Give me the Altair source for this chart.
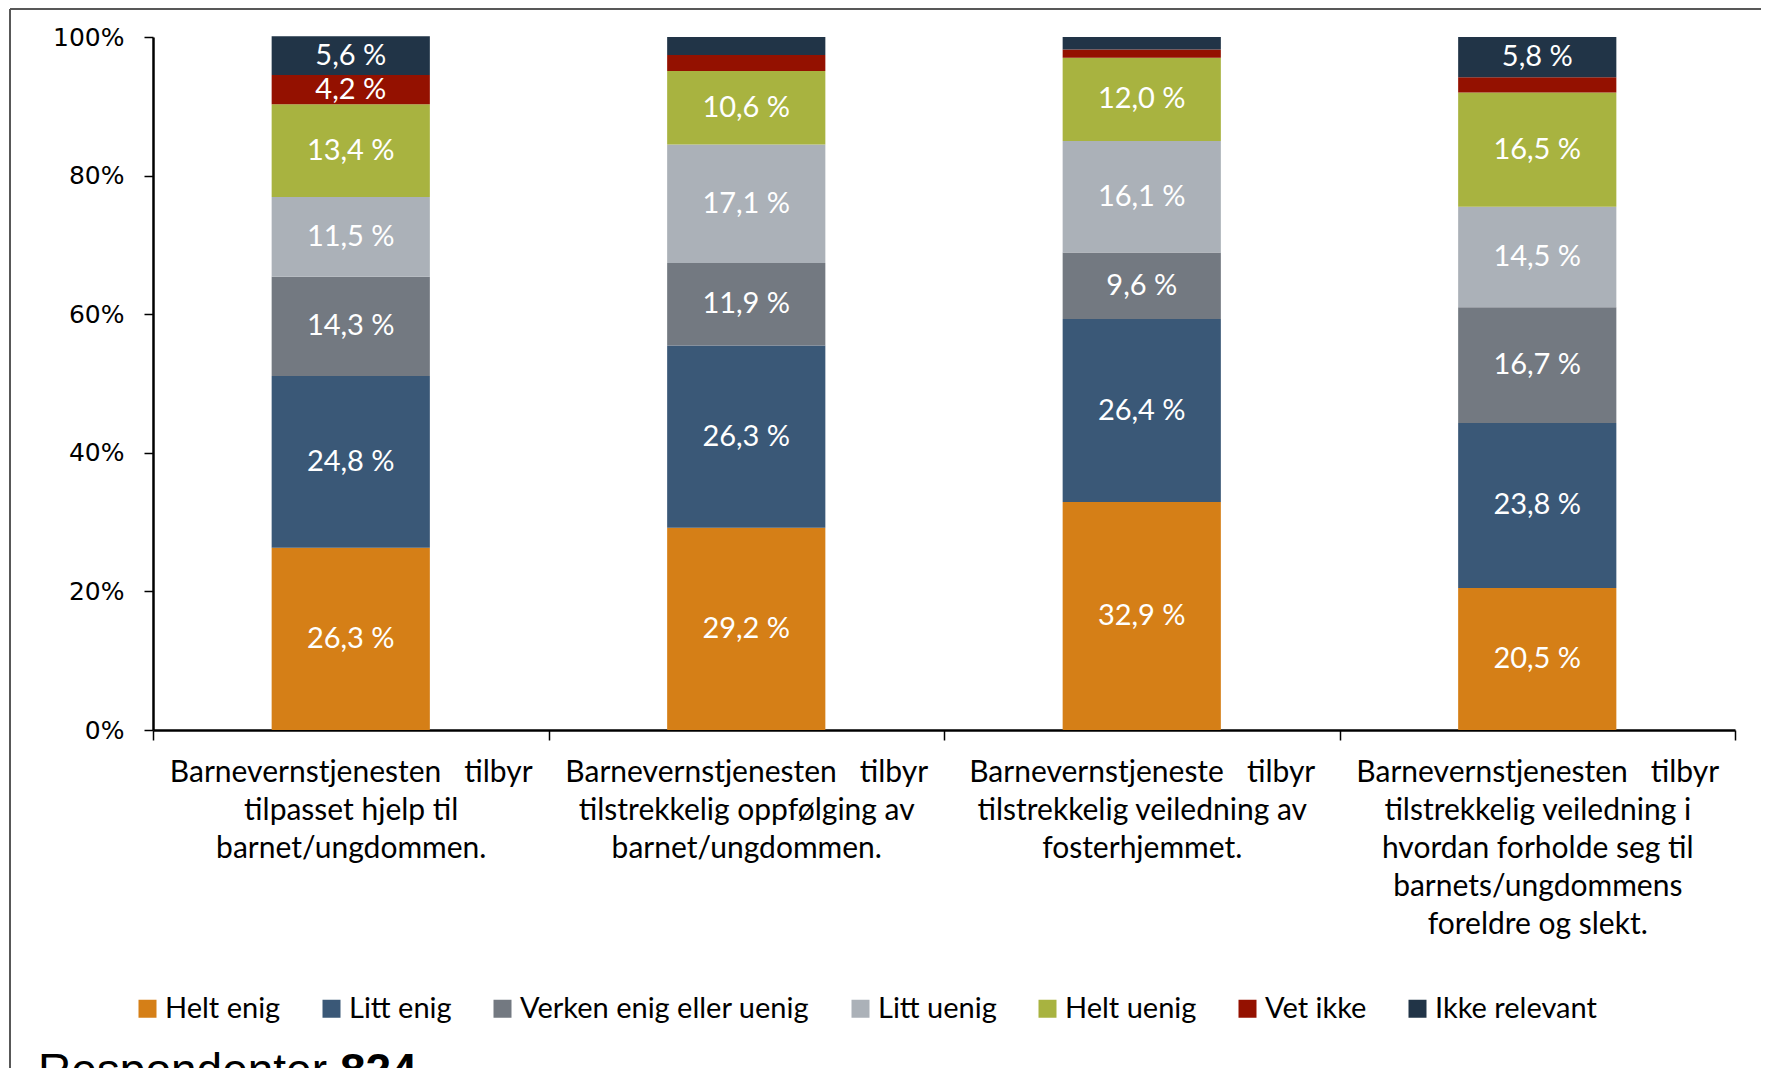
import altair as alt
import pandas as pd

categories = [
    "Barnevernstjenesten\u00a0\u00a0\u00a0tilbyr|tilpasset hjelp til|barnet/ungdommen.",
    "Barnevernstjenesten\u00a0\u00a0\u00a0tilbyr|tilstrekkelig oppfølging av|barnet/ungdommen.",
    "Barnevernstjeneste\u00a0\u00a0\u00a0tilbyr|tilstrekkelig veiledning av|fosterhjemmet.",
    "Barnevernstjenesten\u00a0\u00a0\u00a0tilbyr|tilstrekkelig veiledning i|hvordan forholde seg til|barnets/ungdommens|foreldre og slekt.",
]
series = ["Helt enig", "Litt enig", "Verken enig eller uenig", "Litt uenig",
          "Helt uenig", "Vet ikke", "Ikke relevant"]
colors = ["#D57F17", "#3A5877", "#737981", "#ABB1B8", "#A8B340", "#941100", "#213447"]

helt_enig = [26.3, 29.2, 32.9, 20.5]
litt_enig = [24.8, 26.3, 26.4, 23.8]
verken = [14.3, 11.9, 9.6, 16.7]
litt_uenig = [11.5, 17.1, 16.1, 14.5]
helt_uenig = [13.4, 10.6, 12.0, 16.5]
vet_ikke = [4.2, 2.3, 1.2, 2.2]
ikke_relevant = [5.6, 2.6, 1.8, 5.8]

y_ticks = [0, 20, 40, 60, 80, 100]

values = [helt_enig, litt_enig, verken, litt_uenig, helt_uenig, vet_ikke, ikke_relevant]
rows = []
for si, (s, vals) in enumerate(zip(series, values)):
    for ci, c in enumerate(categories):
        rows.append({"cat": c, "series": s, "order": si, "value": vals[ci]})
df = pd.DataFrame(rows)

FONT = "Lato"

base = alt.Chart(df).transform_stack(
    stack="value", groupby=["cat"], as_=["y0", "y1"],
    sort=[alt.SortField("order", order="ascending")]
).transform_calculate(
    mid="(datum.y0 + datum.y1) / 2",
    lab="replace(format(datum.value, '.1f'), '.', ',') + ' %'"
)

xscale = alt.Scale(paddingInner=0, paddingOuter=0)

xenc = alt.X("cat:N", sort=categories, title=None, scale=xscale,
             axis=alt.Axis(labelExpr="split(datum.label, '|')", labelAngle=0,
                           labelFont=FONT, labelFontSize=30, labelColor="#000000",
                           labelLineHeight=38, labelPadding=17, labelLimit=500,
                           tickBand="extent", tickSize=10, tickColor="#000000",
                           tickWidth=1.5, domainColor="#000000", domainWidth=2.5))

bars = base.mark_bar(width=alt.RelativeBandSize(0.4)).encode(
    x=xenc,
    y=alt.Y("y0:Q", title=None,
            scale=alt.Scale(domain=[0, 100], nice=False),
            axis=alt.Axis(values=y_ticks, labelExpr="datum.value + '%'",
                          labelFont="DejaVu Sans", labelFontSize=25, labelColor="#000000",
                          labelPadding=20, tickSize=9, tickColor="#000000", tickWidth=1.5,
                          domainColor="#000000", domainWidth=2.5, grid=False)),
    y2="y1:Q",
    color=alt.Color("series:N", sort=series,
                    scale=alt.Scale(domain=series, range=colors),
                    legend=alt.Legend(title=None, orient="none", direction="horizontal",
                                      legendX=-20, legendY=957, padding=0,
                                      symbolType="square", symbolSize=324,
                                      symbolStrokeWidth=0, labelOffset=3,
                                      columnPadding=36,
                                      labelFont=FONT, labelFontSize=29,
                                      labelColor="#000000", labelLimit=500)),
    order=alt.Order("order:Q"),
)

texts = base.transform_filter("datum.value >= 3").mark_text(
    color="white", font=FONT, fontSize=29, baseline="middle", align="center"
).encode(
    x=alt.X("cat:N", sort=categories, scale=xscale),
    y=alt.Y("mid:Q"),
    text="lab:N",
)

frame_left = alt.Chart(df).mark_rule(color="#595959", strokeWidth=1.5).encode(
    x=alt.value(-143), y=alt.value(-28), y2=alt.value(1100))
frame_top = alt.Chart(df).mark_rule(color="#595959", strokeWidth=1.5).encode(
    x=alt.value(-143), x2=alt.value(1700), y=alt.value(-28))

resp1 = alt.Chart(pd.DataFrame({"t": ["Respondenter"]})).mark_text(
    font="Liberation Sans", fontSize=46, align="left", baseline="alphabetic", color="#000000"
).encode(x=alt.value(-115), y=alt.value(1049), text="t:N")
resp2 = alt.Chart(pd.DataFrame({"t": ["824"]})).mark_text(
    font="Liberation Sans", fontSize=46, fontWeight="bold", align="left",
    baseline="alphabetic", color="#000000"
).encode(x=alt.value(187), y=alt.value(1049), text="t:N")

chart = alt.layer(frame_left, frame_top, bars, texts, resp1, resp2).properties(
    width=1582, height=693,
    padding={"left": 145, "top": 29, "right": 26, "bottom": 338},
    autosize=alt.AutoSizeParams(type="none"),
    background="white",
).configure_view(stroke=None)

chart.save("out.html", embed_options={"renderer": "svg", "actions": False})
